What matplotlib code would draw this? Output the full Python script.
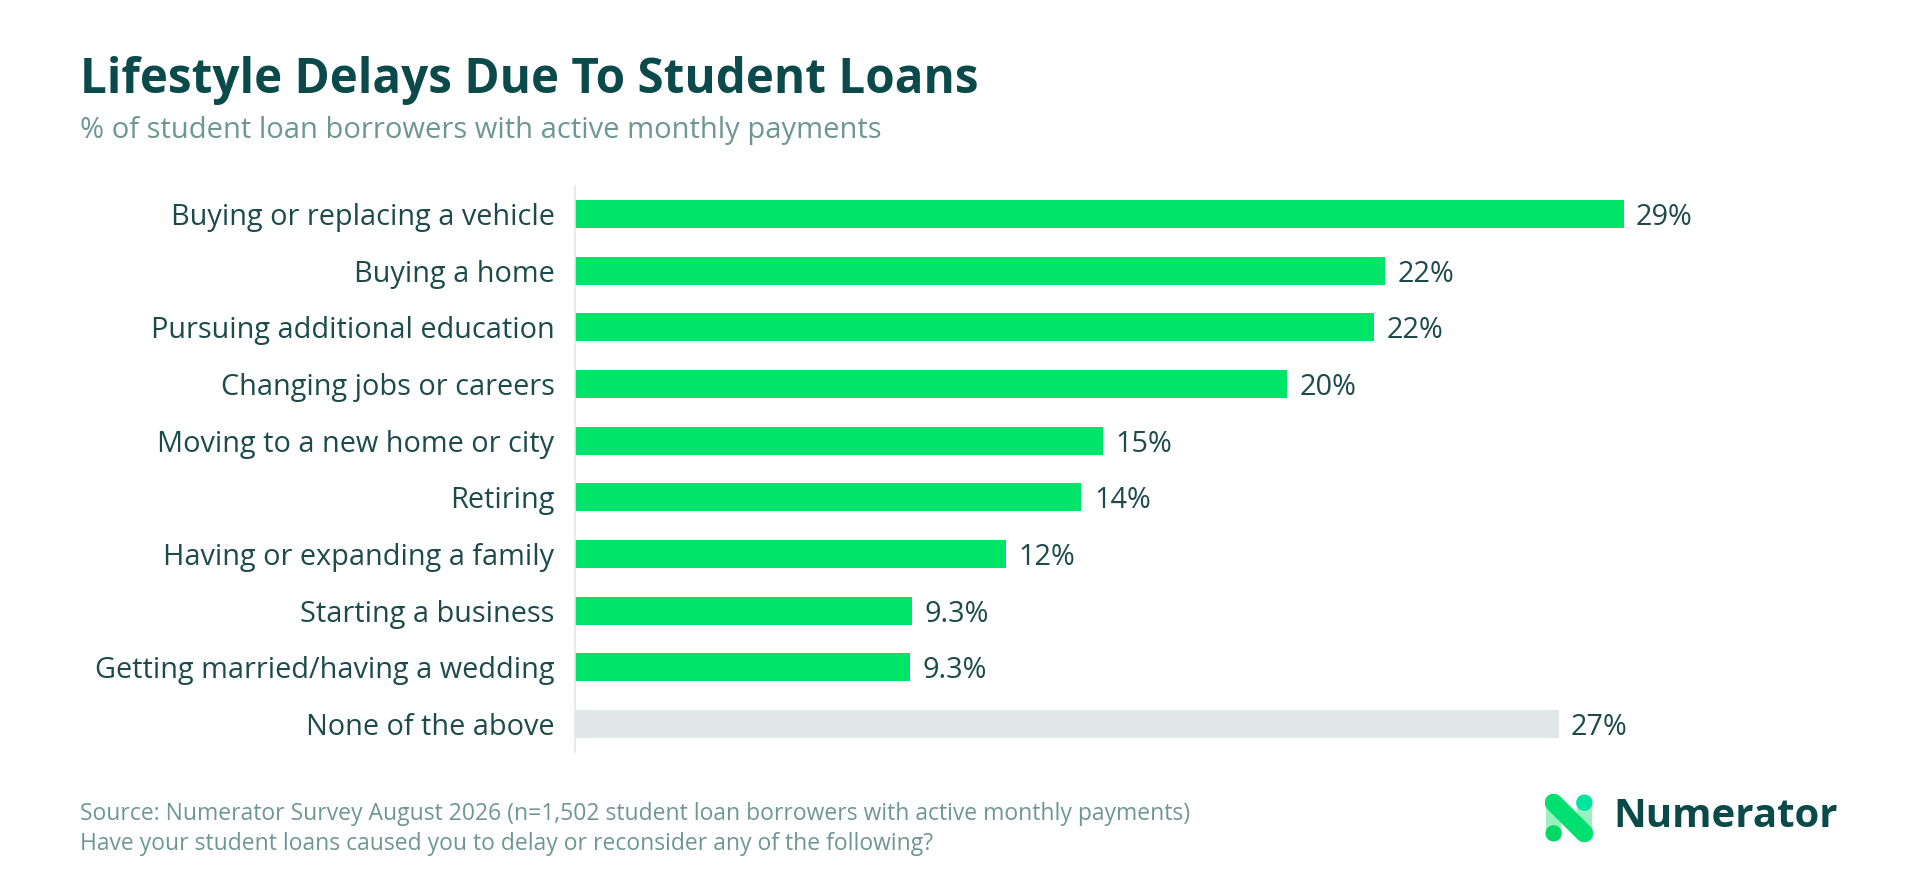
import matplotlib
matplotlib.use("Agg")
import matplotlib.pyplot as plt
from matplotlib.patches import FancyBboxPatch, Circle

plt.rcParams['font.family'] = ['Open Sans', 'DejaVu Sans']

categories = [
    "Buying or replacing a vehicle",
    "Buying a home",
    "Pursuing additional education",
    "Changing jobs or careers",
    "Moving to a new home or city",
    "Retiring",
    "Having or expanding a family",
    "Starting a business",
    "Getting married/having a wedding",
    "None of the above",
]
values = [29.0, 22.4, 22.1, 19.7, 14.6, 14.0, 11.9, 9.3, 9.25, 27.2]
value_labels = ["29%", "22%", "22%", "20%", "15%", "14%", "12%", "9.3%", "9.3%", "27%"]

dark = "#0b4a4b"
label_col = "#1d4b4c"
muted = "#6e9792"
green = "#00e46a"
grey_bar = "#e1e7e7"

fig = plt.figure(figsize=(19.2, 8.82), dpi=100)
fig.patch.set_facecolor("white")

ax = fig.add_axes([0.2997, 0.147, 0.6024, 0.6425])
colors = [green] * (len(values) - 1) + [grey_bar]
ypos = list(range(len(values)))
ax.barh(ypos, values, height=0.49, color=colors)
ax.set_xlim(0, 32)
ax.set_ylim(len(values) - 0.5, -0.5)
ax.set_yticks(ypos)
ax.set_yticklabels(categories, fontsize=20.8, color=label_col)
ax.tick_params(axis='y', length=0, pad=15)
ax.set_xticks([])
for s in ["top", "right", "bottom"]:
    ax.spines[s].set_visible(False)
ax.spines["left"].set_color("#e3e8e8")
ax.spines["left"].set_linewidth(1.2)

for y, v, lab in zip(ypos, values, value_labels):
    ax.annotate(lab, (v, y), xytext=(9, 0), textcoords="offset points",
                va="center_baseline", ha="left", fontsize=20.8, color=label_col)

fig.text(0.0415, 0.909, "Lifestyle Delays Due To Student Loans", fontsize=34.3,
         fontweight="bold", color=dark, va="center", ha="left")
fig.text(0.0415, 0.852, "% of student loan borrowers with active monthly payments",
         fontsize=21, color=muted, va="center", ha="left")

fig.text(0.0415, 0.077,
         "Source: Numerator Survey August 2026 (n=1,502 student loan borrowers with active monthly payments)",
         fontsize=16.5, color=muted, va="center", ha="left")
fig.text(0.0415, 0.043,
         "Have your student loans caused you to delay or reconsider any of the following?",
         fontsize=16.5, color=muted, va="center", ha="left")

# logo
fig.text(0.8405, 0.074, "Numerator", fontsize=29, fontweight="bold",
         color=dark, va="center", ha="left")
lax = fig.add_axes([1545 / 1920, 1 - 842 / 882, 48 / 1920, 48 / 882])
lax.set_xlim(0, 1)
lax.set_ylim(0, 1)
lax.axis("off")
for x0 in (0.0, 0.64):
    lax.add_patch(FancyBboxPatch((x0 + 0.02, 0.02), 0.32, 0.96,
                                 boxstyle="round,pad=0,rounding_size=0.16",
                                 fc="#8ef0b8", ec="none", alpha=0.9))
lax.plot([0.18, 0.82], [0.82, 0.18], color="#00e070", lw=13, solid_capstyle="round")
lax.add_patch(Circle((0.18, 0.18), 0.17, fc="#00d866", ec="none"))
lax.add_patch(Circle((0.82, 0.82), 0.17, fc="#00e6a0", ec="none"))

fig.savefig("out.png", dpi=100, facecolor="white")
